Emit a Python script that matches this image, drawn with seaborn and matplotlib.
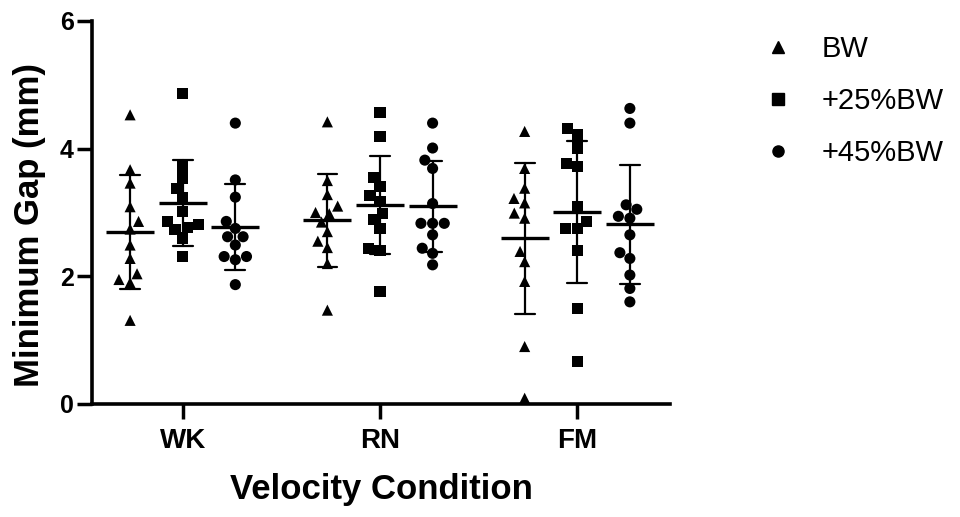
import numpy as np
import pandas as pd
import matplotlib
matplotlib.use("Agg")
import matplotlib.pyplot as plt
from matplotlib.lines import Line2D
import seaborn as sns

conditions = ["WK", "RN", "FM"]
loads = ["BW", "+25%BW", "+45%BW"]
markers = ["^", "s", "o"]

# minimum gap (mm), one list per condition / load
wk_bw = [4.53, 3.67, 3.46, 3.09, 2.86, 2.74, 2.49, 2.28, 2.04, 1.95, 1.90, 1.31]
wk_25 = [4.87, 3.72, 3.54, 3.38, 3.23, 3.01, 2.86, 2.81, 2.76, 2.73, 2.60, 2.31]
wk_45 = [4.40, 3.51, 3.24, 2.86, 2.75, 2.62, 2.62, 2.49, 2.31, 2.26, 2.31, 1.87]
rn_bw = [4.42, 3.50, 3.28, 3.10, 3.00, 2.98, 2.85, 2.70, 2.55, 2.45, 2.20, 1.47]
rn_25 = [4.57, 4.19, 3.55, 3.41, 3.26, 3.17, 2.99, 2.89, 2.75, 2.44, 2.40, 1.76]
rn_45 = [4.40, 4.01, 3.82, 3.69, 3.14, 2.83, 2.83, 2.83, 2.65, 2.44, 2.36, 2.18]
fm_bw = [4.27, 3.69, 3.38, 3.22, 3.15, 2.99, 2.91, 2.39, 2.23, 1.92, 0.90, 0.09]
fm_25 = [4.32, 4.22, 4.01, 3.77, 3.72, 3.09, 2.86, 2.75, 2.75, 2.41, 1.50, 0.66]
fm_45 = [4.63, 4.40, 3.12, 3.05, 2.94, 2.91, 2.65, 2.37, 2.28, 2.02, 1.81, 1.60]

groups = {
    ("WK", "BW"): wk_bw, ("WK", "+25%BW"): wk_25, ("WK", "+45%BW"): wk_45,
    ("RN", "BW"): rn_bw, ("RN", "+25%BW"): rn_25, ("RN", "+45%BW"): rn_45,
    ("FM", "BW"): fm_bw, ("FM", "+25%BW"): fm_25, ("FM", "+45%BW"): fm_45,
}
rows = []
for (cond, load), vals in groups.items():
    for v in vals:
        rows.append({"Condition": cond, "Load": load, "Gap": v})
df = pd.DataFrame(rows)

sns.set_style("ticks")
plt.rcParams["font.family"] = ["Liberation Sans", "DejaVu Sans"]
plt.rcParams["axes.edgecolor"] = "black"
plt.rcParams["xtick.color"] = "black"
plt.rcParams["ytick.color"] = "black"
plt.rcParams["text.color"] = "black"
plt.rcParams["axes.labelcolor"] = "black"

fig = plt.figure(figsize=(9.6, 5.17), dpi=100)
ax = fig.add_axes([0.0958, 0.2186, 0.6021, 0.7408])

black = {l: "black" for l in loads}

# individual points, one marker shape per load
for load, m in zip(loads, markers):
    sns.swarmplot(
        data=df[df["Load"] == load], x="Condition", y="Gap",
        hue="Load", hue_order=loads, order=conditions,
        dodge=True, palette=black, marker=m, size=8,
        linewidth=0, legend=False, ax=ax,
    )

# mean and SD
sns.pointplot(
    data=df, x="Condition", y="Gap", hue="Load",
    hue_order=loads, order=conditions, palette=black,
    dodge=0.8 * 2 / 3, errorbar="sd", capsize=0.1,
    markers="_", markersize=34, markeredgewidth=2.4,
    linestyles="none", err_kws={"linewidth": 1.6},
    legend=False, ax=ax,
)

ax.set_ylim(0, 6)
ax.set_xlim(-0.46, 2.47)
ax.set_yticks([0, 2, 4, 6])

ax.set_xlabel("Velocity Condition", fontsize=25, fontweight="bold", labelpad=14)
ax.set_ylabel("Minimum Gap (mm)", fontsize=25, fontweight="bold")
ax.yaxis.set_label_coords(-0.08, 0.467)

ax.tick_params(axis="x", labelsize=20, length=11, width=2.5, pad=6)
ax.tick_params(axis="y", labelsize=18, length=11, width=2.5, pad=2)
for lbl in ax.get_xticklabels() + ax.get_yticklabels():
    lbl.set_fontweight("bold")

sns.despine(ax=ax)
ax.spines["left"].set_linewidth(2.6)
ax.spines["bottom"].set_linewidth(2.6)

handles = [
    Line2D([], [], linestyle="none", marker=m, color="black", markersize=8)
    for m in markers
]
fig.legend(
    handles, loads, loc="upper left", bbox_to_anchor=(0.768, 0.983),
    frameon=False, fontsize=21, handlelength=1.0, handletextpad=1.0,
    labelspacing=0.82,
)

fig.savefig("out.png", dpi=100)
